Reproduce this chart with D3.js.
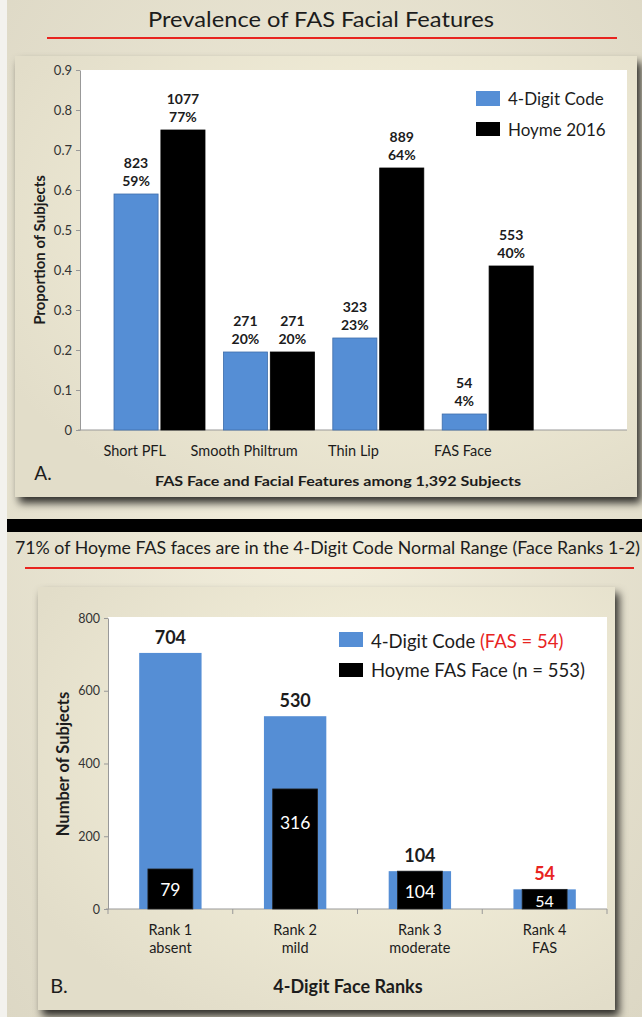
<!DOCTYPE html>
<html>
<head>
<meta charset="utf-8">
<script src="https://cdn.jsdelivr.net/npm/d3@7"></script>
<style>
  body { margin: 0; background: #fff; }
  svg { display: block; font-family: Lato, "Open Sans", sans-serif; }
</style>
</head>
<body>
<svg id="chart" width="642" height="1017"></svg>
<script>
// panel A data
var featureCats = ["Short PFL", "Smooth Philtrum", "Thin Lip", "FAS Face"];
var digitProp = [0.59, 0.195, 0.23, 0.04];
var hoymeProp = [0.75, 0.195, 0.655, 0.41];
var digitCount = ["823", "271", "323", "54"];
var digitPct = ["59%", "20%", "23%", "4%"];
var hoymeCount = ["1077", "271", "889", "553"];
var hoymePct = ["77%", "20%", "64%", "40%"];
var yTicksA = [0, 0.1, 0.2, 0.3, 0.4, 0.5, 0.6, 0.7, 0.8, 0.9];

// panel B data
var rankCats = ["Rank 1", "Rank 2", "Rank 3", "Rank 4"];
var rankSub = ["absent", "mild", "moderate", "FAS"];
var digitRank = [704, 530, 104, 54];
var hoymeRankBar = [110, 330, 104, 54];   // bar heights as drawn
var hoymeRankLabel = ["79", "316", "104", "54"];
var yTicksB = [0, 200, 400, 600, 800];

var BLUE = "#558ed5", INK = "#1c1c1c";
var svg = d3.select("#chart");
var defs = svg.append("defs");

var bg = defs.append("radialGradient").attr("id", "bg").attr("cx", "50%").attr("cy", "45%").attr("r", "75%");
bg.append("stop").attr("offset", "0%").attr("stop-color", "#f4f0de");
bg.append("stop").attr("offset", "100%").attr("stop-color", "#dcd7c4");

var pg = defs.append("radialGradient").attr("id", "panel").attr("cx", "60%").attr("cy", "40%").attr("r", "70%");
pg.append("stop").attr("offset", "0%").attr("stop-color", "#faf6e0");
pg.append("stop").attr("offset", "100%").attr("stop-color", "#e2ddc9");

var sh = defs.append("filter").attr("id", "shadow").attr("x", "-10%").attr("y", "-10%").attr("width", "125%").attr("height", "125%");
sh.append("feDropShadow").attr("dx", 4).attr("dy", 6).attr("stdDeviation", 4)
  .attr("flood-color", "#000").attr("flood-opacity", 0.8);

var blur = defs.append("filter").attr("id", "blur");
blur.append("feGaussianBlur").attr("stdDeviation", 1.2);

svg.append("rect").attr("width", 642).attr("height", 1017).attr("fill", "url(#bg)");
svg.append("rect").attr("width", 7).attr("height", 1017).attr("fill", "#f3f2ee");

function titleRule(x1, x2, y) {
  svg.append("line").attr("x1", x1).attr("x2", x2).attr("y1", y + 3).attr("y2", y + 3)
    .attr("stroke", "#555").attr("stroke-width", 3).attr("filter", "url(#blur)");
  svg.append("line").attr("x1", x1).attr("x2", x2).attr("y1", y).attr("y2", y)
    .attr("stroke", "#e8241f").attr("stroke-width", 2);
}

// ---------- panel A ----------
svg.append("text").attr("x", 321).attr("y", 18).attr("text-anchor", "middle")
  .attr("dominant-baseline", "central").attr("font-size", 21).attr("fill", INK)
  .attr("textLength", 346).attr("lengthAdjust", "spacingAndGlyphs")
  .text("Prevalence of FAS Facial Features");
titleRule(47, 617, 38);

svg.append("rect").attr("x", 15).attr("y", 56).attr("width", 622).attr("height", 441)
  .attr("fill", "url(#panel)").attr("filter", "url(#shadow)");

var yA = d3.scaleLinear().domain([0, 0.9]).range([430, 70]);
var xA = d3.scaleBand().domain(featureCats.concat([""])).range([80, 627]);
var sA = d3.scaleBand().domain(["digit", "hoyme"]).range([34, 125]).paddingInner(0.06);

svg.append("rect").attr("x", 80).attr("y", 70).attr("width", 547).attr("height", 360).attr("fill", "#fff");

var axA = svg.append("g").attr("transform", "translate(80,0)")
  .call(d3.axisLeft(yA).tickValues(yTicksA).tickSize(4).tickSizeOuter(0)
    .tickFormat(function(d) { return d === 0 ? "0" : d3.format(".1f")(d); }));
axA.attr("font-size", 13).attr("font-family", "Lato");
axA.selectAll("path, line").attr("stroke", "#999");
axA.selectAll("text").attr("fill", "#333").attr("x", -8);
svg.append("line").attr("x1", 78).attr("x2", 627).attr("y1", yA(0)).attr("y2", yA(0)).attr("stroke", "#999");

var gA = svg.append("g");
featureCats.forEach(function(c, i) {
  var bars = [
    { s: "digit", v: digitProp[i], fill: BLUE, l1: digitCount[i], l2: digitPct[i] },
    { s: "hoyme", v: hoymeProp[i], fill: "#000", l1: hoymeCount[i], l2: hoymePct[i] }
  ];
  bars.forEach(function(b) {
    var x = xA(c) + sA(b.s), w = sA.bandwidth(), top = yA(b.v);
    gA.append("rect").attr("x", x).attr("y", top).attr("width", w).attr("height", yA(0) - top)
      .attr("fill", b.fill).attr("stroke", b.s === "digit" ? "#3f6eaa" : "#000").attr("stroke-width", 0.8);
    [b.l1, b.l2].forEach(function(t, k) {
      gA.append("text").attr("x", x + w / 2).attr("y", top - 32 + k * 18)
        .attr("text-anchor", "middle").attr("dominant-baseline", "central")
        .attr("font-size", 14).attr("font-weight", "bold").attr("fill", INK).text(t);
    });
  });
  gA.append("text").attr("x", xA(c) + xA.bandwidth() / 2).attr("y", 450)
    .attr("text-anchor", "middle").attr("dominant-baseline", "central")
    .attr("font-size", 14.5).attr("fill", INK).text(c);
});

svg.append("text").attr("x", 39).attr("y", 250).attr("transform", "rotate(-90,39,250)")
  .attr("text-anchor", "middle").attr("dominant-baseline", "central")
  .attr("font-size", 15).attr("font-weight", "bold").attr("fill", INK).text("Proportion of Subjects");

var legA = [{ t: "4-Digit Code", f: BLUE, y: 91, h: 15 }, { t: "Hoyme 2016", f: "#000", y: 122, h: 14 }];
legA.forEach(function(d) {
  svg.append("rect").attr("x", 476).attr("y", d.y).attr("width", 24).attr("height", d.h).attr("fill", d.f);
  svg.append("text").attr("x", 508).attr("y", d.y + d.h / 2).attr("dominant-baseline", "central")
    .attr("font-size", 17).attr("fill", INK).text(d.t);
});

svg.append("text").attr("x", 43).attr("y", 472).attr("text-anchor", "middle").attr("dominant-baseline", "central")
  .attr("font-size", 19).attr("fill", INK).text("A.");
svg.append("text").attr("x", 338).attr("y", 480).attr("text-anchor", "middle").attr("dominant-baseline", "central")
  .attr("font-size", 14).attr("font-weight", "bold").attr("fill", INK)
  .attr("textLength", 366).attr("lengthAdjust", "spacingAndGlyphs")
  .text("FAS Face and Facial Features among 1,392 Subjects");

// ---------- separator ----------
svg.append("rect").attr("x", 7).attr("y", 519).attr("width", 635).attr("height", 13).attr("fill", "#000");

// ---------- panel B ----------
svg.append("text").attr("x", 15).attr("y", 547).attr("dominant-baseline", "central")
  .attr("font-size", 17).attr("fill", INK)
  .attr("textLength", 625).attr("lengthAdjust", "spacingAndGlyphs")
  .text("71% of Hoyme FAS faces are in the 4-Digit Code Normal Range (Face Ranks 1-2)");
titleRule(25, 634, 568);

svg.append("rect").attr("x", 38).attr("y", 587).attr("width", 577).attr("height", 423)
  .attr("fill", "url(#panel)").attr("filter", "url(#shadow)");

var yB = d3.scaleLinear().domain([0, 800]).range([909, 618]);
var xB = d3.scaleBand().domain(rankCats).range([108, 607]).paddingInner(0.5).paddingOuter(0.25);

svg.append("rect").attr("x", 108).attr("y", 617).attr("width", 499).attr("height", 292).attr("fill", "#fff");

var axB = svg.append("g").attr("transform", "translate(108,0)")
  .call(d3.axisLeft(yB).tickValues(yTicksB).tickSize(4).tickSizeOuter(0));
axB.attr("font-size", 12.5).attr("font-family", "Lato");
axB.selectAll("path, line").attr("stroke", "#999");
axB.selectAll("text").attr("fill", "#333").attr("x", -8);

var gB = svg.append("g");
gB.append("line").attr("x1", 106).attr("x2", 607).attr("y1", yB(0)).attr("y2", yB(0)).attr("stroke", "#999");
d3.range(rankCats.length + 1).forEach(function(i) {
  var x = xB.range()[0] + i * xB.step();
  gB.append("line").attr("x1", x).attr("x2", x).attr("y1", yB(0)).attr("y2", yB(0) + 5).attr("stroke", "#999");
});

rankCats.forEach(function(c, i) {
  var x = xB(c), w = xB.bandwidth(), cx = x + w / 2;
  var topB = yB(digitRank[i]);
  gB.append("rect").attr("x", x).attr("y", topB).attr("width", w).attr("height", yB(0) - topB).attr("fill", BLUE);
  var bw = w * 0.72, topK = yB(hoymeRankBar[i]);
  gB.append("rect").attr("x", cx - bw / 2).attr("y", topK).attr("width", bw).attr("height", yB(0) - topK)
    .attr("fill", "#000").attr("stroke", "#222").attr("stroke-width", 0.8);
  gB.append("text").attr("x", cx).attr("y", topB - 16).attr("text-anchor", "middle").attr("dominant-baseline", "central")
    .attr("font-size", 18).attr("font-weight", "bold").attr("fill", c === "Rank 4" ? "#e8241f" : INK)
    .text(digitRank[i]);
  var ly = Math.min((topK + yB(0)) / 2 + 1, topK + 34);
  gB.append("text").attr("x", cx).attr("y", ly).attr("text-anchor", "middle").attr("dominant-baseline", "central")
    .attr("font-size", i === 3 ? 16 : 17.5).attr("fill", "#fff").text(hoymeRankLabel[i]);
  gB.append("text").attr("x", cx).attr("y", 929).attr("text-anchor", "middle").attr("dominant-baseline", "central")
    .attr("font-size", 14.5).attr("fill", INK).text(c);
  gB.append("text").attr("x", cx).attr("y", 947).attr("text-anchor", "middle").attr("dominant-baseline", "central")
    .attr("font-size", 14.5).attr("fill", INK).text(rankSub[i]);
});

svg.append("text").attr("x", 63).attr("y", 764).attr("transform", "rotate(-90,63,764)")
  .attr("text-anchor", "middle").attr("dominant-baseline", "central")
  .attr("font-size", 16.5).attr("font-weight", "bold").attr("fill", INK).text("Number of Subjects");

var legB1 = svg.append("g");
legB1.append("rect").attr("x", 339).attr("y", 632).attr("width", 24).attr("height", 15).attr("fill", BLUE);
var t1 = legB1.append("text").attr("x", 371).attr("y", 641).attr("dominant-baseline", "central")
  .attr("font-size", 18.5).attr("fill", INK);
t1.append("tspan").text("4-Digit Code ");
t1.append("tspan").attr("fill", "#e8241f").text("(FAS = 54)");
legB1.append("rect").attr("x", 339).attr("y", 663).attr("width", 24).attr("height", 14).attr("fill", "#000");
legB1.append("text").attr("x", 371).attr("y", 670).attr("dominant-baseline", "central")
  .attr("font-size", 18.5).attr("fill", INK).text("Hoyme FAS Face (n = 553)");

svg.append("text").attr("x", 59).attr("y", 985).attr("text-anchor", "middle").attr("dominant-baseline", "central")
  .attr("font-size", 20).attr("fill", INK).text("B.");
svg.append("text").attr("x", 348).attr("y", 986).attr("text-anchor", "middle").attr("dominant-baseline", "central")
  .attr("font-size", 18).attr("font-weight", "bold").attr("fill", INK).text("4-Digit Face Ranks");
</script>
</body>
</html>
